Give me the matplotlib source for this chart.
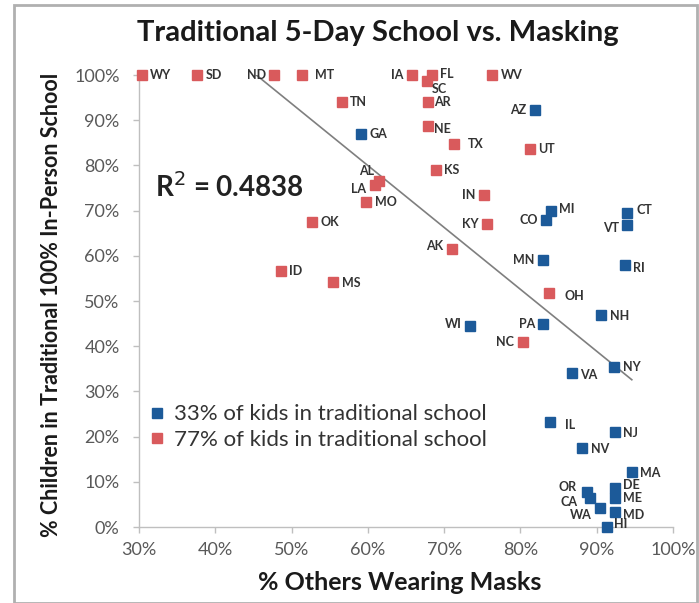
import matplotlib
matplotlib.use("Agg")
import matplotlib.pyplot as plt
import numpy as np
from matplotlib.patches import Rectangle

# ---- data ----
red_states = ["WY", "SD", "ND", "MT", "IA", "FL", "SC", "AR", "TN", "WV", "NE", "TX", "UT",
              "KS", "IN", "AL", "LA", "MO", "OK", "KY", "AK", "ID", "MS", "OH", "NC"]
red_x = [30.4, 37.6, 47.7, 51.4, 65.8, 68.4, 67.7, 67.9, 56.6, 76.3, 67.9, 71.3, 81.2,
         68.9, 75.2, 61.4, 61.0, 59.8, 52.7, 75.6, 71.0, 48.6, 55.4, 83.8, 80.3]
red_y = [100, 100, 100, 100, 100, 100, 98.7, 94.0, 94.0, 100, 88.7, 84.7, 83.6,
         79.0, 73.5, 76.6, 75.6, 72.0, 67.5, 67.0, 61.5, 56.6, 54.2, 51.8, 41.0]

blue_states = ["AZ", "GA", "MI", "CO", "CT", "VT", "MN", "RI", "NH", "WI", "PA", "NY", "VA",
               "IL", "NJ", "NV", "MA", "OR", "CA", "WA", "HI", "DE", "ME", "MD"]
blue_x = [81.9, 59.1, 84.0, 83.4, 94.0, 94.0, 82.9, 93.7, 90.6, 73.4, 83.0, 92.3, 86.7,
          83.9, 92.4, 88.1, 94.6, 88.7, 89.1, 90.4, 91.3, 92.4, 92.4, 92.4]
blue_y = [92.3, 87.0, 70.0, 68.0, 69.5, 66.8, 59.0, 58.0, 47.0, 44.5, 44.9, 35.4, 34.0,
          23.2, 21.0, 17.5, 12.2, 7.7, 6.4, 4.2, 0.0, 8.6, 6.4, 3.3]

legend_labels = ["33% of kids in traditional school", "77% of kids in traditional school"]
x_ticks = [30, 40, 50, 60, 70, 80, 90, 100]
y_ticks = [0, 10, 20, 30, 40, 50, 60, 70, 80, 90, 100]
r2_text = "R$^2$ = 0.4838"

# ---- label placement (offset in points) ----
place = {
    "WY": (6, 0, "left"), "SD": (6, 0, "left"), "ND": (-6, 0, "right"), "MT": (9, 0, "left"),
    "IA": (-6, 0, "right"), "FL": (6, 1, "left"), "SC": (4, -6, "left"), "AR": (4, 0, "left"),
    "TN": (6, 0, "left"), "WV": (6, 0, "left"), "NE": (4, -2, "left"), "TX": (10, 0, "left"),
    "UT": (6, 0, "left"), "KS": (6, 0, "left"), "IN": (-6, 0, "right"), "AL": (-3, 7, "right"),
    "LA": (-7, -3, "right"), "MO": (6, 0, "left"), "OK": (6, 0, "left"), "KY": (-6, 0, "right"),
    "AK": (-6, 2, "right"), "ID": (6, 0, "left"), "MS": (7, -1, "left"), "OH": (11, -2, "left"),
    "NC": (-6, 0, "right"),
    "AZ": (-6, 0, "right"), "GA": (6, 0, "left"), "MI": (6, 1, "left"), "CO": (-6, 0, "right"),
    "CT": (7, 2, "left"), "VT": (-6, -2, "right"), "MN": (-6, 0, "right"), "RI": (6, -2, "left"),
    "NH": (6, -1, "left"), "WI": (-6, 1, "right"), "PA": (-6, 0, "right"), "NY": (6, 0, "left"),
    "VA": (6, -1, "left"), "IL": (11, -2, "left"), "NJ": (6, -1, "left"), "NV": (6, -1, "left"),
    "MA": (6, -1, "left"), "OR": (-7, 4, "right"), "CA": (-9, -3, "right"), "WA": (-6, -5, "right"),
    "HI": (5, 2, "left"), "DE": (6, 2, "left"), "ME": (6, 0, "left"), "MD": (6, -2, "left"),
}

BLUE = "#1c5a99"
RED = "#d95a5c"
GREY = "#595959"
FONT = ["Lato", "DejaVu Sans"]
plt.rcParams["font.family"] = FONT

fig = plt.figure(figsize=(6.99, 6.03), dpi=100)
fig.patches.append(Rectangle((14 / 699, 0.0), 683 / 699, 1 - 5 / 603, transform=fig.transFigure,
                             fill=False, edgecolor="#b0b0b0", linewidth=2.0, zorder=0))
ax = fig.add_axes([139 / 699, 1 - 527 / 603, (673 - 139) / 699, (527 - 75) / 603])

ax.plot(blue_x, blue_y, "s", color=BLUE, markersize=7.5, label=legend_labels[0], clip_on=False, zorder=3)
ax.plot(red_x, red_y, "s", color=RED, markersize=7.5, label=legend_labels[1], clip_on=False, zorder=3)

# trend line (least squares over all points)
all_x = np.array(red_x + blue_x)
all_y = np.array(red_y + blue_y)
m, b = np.polyfit(all_x, all_y, 1)
xs = np.linspace(all_x.min(), all_x.max(), 200)
ax.plot(xs, m * xs + b, color="#7f7f7f", linewidth=1.2, zorder=2)

for names, xv, yv in ((red_states, red_x, red_y), (blue_states, blue_x, blue_y)):
    for n, xx, yy in zip(names, xv, yv):
        dx, dy, ha = place[n]
        ax.annotate(n, (xx, yy), xytext=(dx, dy), textcoords="offset points", ha=ha, va="center",
                    fontsize=9, fontweight="bold", color="#333333", annotation_clip=False, zorder=4)

ax.set_xlim(30, 100)
ax.set_ylim(0, 100)
ax.set_xticks(x_ticks)
ax.set_xticklabels([f"{t}%" for t in x_ticks])
ax.set_yticks(y_ticks)
ax.set_yticklabels([f"{t}%" for t in y_ticks])
ax.tick_params(axis="both", colors="#bfbfbf", labelcolor=GREY, labelsize=13, length=4, width=1)
ax.tick_params(axis="x", pad=7)
ax.tick_params(axis="y", pad=10)
for s in ("top", "right"):
    ax.spines[s].set_visible(False)
for s in ("left", "bottom"):
    ax.spines[s].set_color("#bfbfbf")
    ax.spines[s].set_linewidth(1)

ax.text(32.1, 75.2, r2_text, fontsize=20, fontweight="bold", color="#222222", va="center", ha="left")

fig.text(378 / 699, 1 - 33 / 603, "Traditional 5-Day School vs. Masking", fontsize=21,
         fontweight="bold", color="#1a1a1a", ha="center", va="center")
fig.text(400 / 699, 1 - 583 / 603, "% Others Wearing Masks", fontsize=18, fontweight="bold",
         color="#1a1a1a", ha="center", va="center")
fig.text(52 / 699, 1 - 305 / 603, "% Children in Traditional 100% In-Person School", fontsize=15.5,
         fontweight="bold", color="#1a1a1a", ha="center", va="center", rotation=90)

leg = ax.legend(loc="center left", bbox_to_anchor=(0.02, 0.221), frameon=False, fontsize=16,
                handlelength=0.7, handletextpad=0.4, borderaxespad=0, borderpad=0, labelspacing=0.25,
                markerscale=0.9)
for t in leg.get_texts():
    t.set_color("#333333")

fig.savefig("out.png", dpi=100)
